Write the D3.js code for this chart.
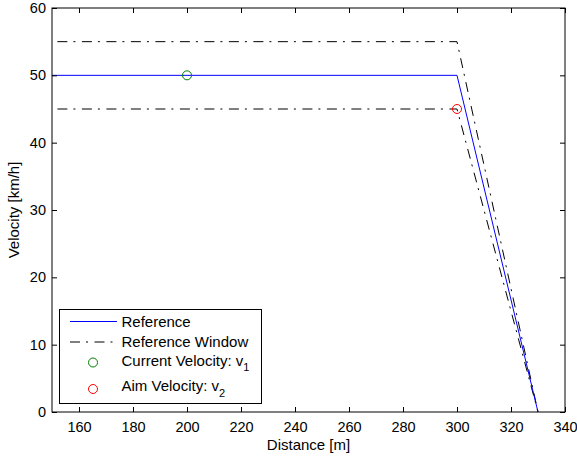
<!DOCTYPE html>
<html>
<head>
<meta charset="utf-8">
<script src="https://cdn.jsdelivr.net/npm/d3@7"></script>
<style>
  body { margin: 0; background: #fff; }
  svg { font-family: "Liberation Sans", Arial, sans-serif; }
</style>
</head>
<body>
<svg id="chart" width="577" height="460"></svg>
<script>
// data
const referenceLine = [[150, 50], [300, 50], [330, 0]];
const windowUpper = [[152, 55], [300, 55], [330, 0]];
const windowLower = [[152, 45], [300, 45], [330, 0]];
const currentVelocity = [[200, 50]];
const aimVelocity = [[300, 45]];
const xTicks = [160, 180, 200, 220, 240, 260, 280, 300, 320, 340];
const yTicks = [0, 10, 20, 30, 40, 50, 60];

const svg = d3.select("#chart");
const plotLeft = 52, plotRight = 565, plotTop = 8, plotBottom = 412;

const x = d3.scaleLinear().domain([150, 340]).range([plotLeft, plotRight]);
const y = d3.scaleLinear().domain([0, 60]).range([plotBottom, plotTop]);

const line = d3.line().x(d => x(d[0])).y(d => y(d[1]));
const dashDot = "10,6,2,6.5";

svg.append("defs").append("clipPath").attr("id", "plot")
  .append("rect").attr("x", plotLeft).attr("y", plotTop)
  .attr("width", plotRight - plotLeft).attr("height", plotBottom - plotTop);

const plot = svg.append("g").attr("clip-path", "url(#plot)");

// window lines
[windowUpper, windowLower].forEach(data => {
  plot.append("path")
    .attr("d", line(data))
    .attr("fill", "none")
    .attr("stroke", "#000")
    .attr("stroke-width", 1)
    .attr("stroke-dasharray", dashDot);
});

// reference
plot.append("path")
  .attr("d", line(referenceLine))
  .attr("fill", "none")
  .attr("stroke", "#0000ff")
  .attr("stroke-width", 1);

// markers
plot.selectAll(".cur").data(currentVelocity).join("circle")
  .attr("cx", d => x(d[0])).attr("cy", d => y(d[1])).attr("r", 4.5)
  .attr("fill", "none").attr("stroke", "#008000");
plot.selectAll(".aim").data(aimVelocity).join("circle")
  .attr("cx", d => x(d[0])).attr("cy", d => y(d[1])).attr("r", 4.5)
  .attr("fill", "none").attr("stroke", "#ff0000");

// axes, ticks pointing inward, mirrored on top/right
const tickLen = 5;
const tickFont = "14.5px";
const labelFont = "15px";
const xb = svg.append("g").attr("transform", `translate(0,${plotBottom})`)
  .call(d3.axisBottom(x).tickValues(xTicks).tickSizeInner(-tickLen).tickSizeOuter(0).tickPadding(10));
const xt = svg.append("g").attr("transform", `translate(0,${plotTop})`)
  .call(d3.axisTop(x).tickValues(xTicks).tickSizeInner(-tickLen).tickSizeOuter(0).tickFormat(""));
const yl = svg.append("g").attr("transform", `translate(${plotLeft},0)`)
  .call(d3.axisLeft(y).tickValues(yTicks).tickSizeInner(-tickLen).tickSizeOuter(0).tickPadding(6));
const yr = svg.append("g").attr("transform", `translate(${plotRight},0)`)
  .call(d3.axisRight(y).tickValues(yTicks).tickSizeInner(-tickLen).tickSizeOuter(0).tickFormat(""));

[xb, xt, yl, yr].forEach(g => {
  g.select(".domain").remove();
  g.selectAll("line").attr("stroke", "#000");
  g.selectAll("text").attr("fill", "#000").style("font-size", tickFont).style("font-family", "Liberation Sans, Arial, sans-serif");
});

svg.append("rect")
  .attr("x", plotLeft).attr("y", plotTop)
  .attr("width", plotRight - plotLeft).attr("height", plotBottom - plotTop)
  .attr("fill", "none").attr("stroke", "#000").attr("stroke-width", 1);

// axis labels
svg.append("text")
  .attr("x", (plotLeft + plotRight) / 2).attr("y", 449.5)
  .attr("text-anchor", "middle").style("font-size", labelFont)
  .text("Distance [m]");
svg.append("text")
  .attr("transform", `translate(19,${(plotTop + plotBottom) / 2}) rotate(-90)`)
  .attr("text-anchor", "middle").style("font-size", labelFont)
  .text("Velocity [km/h]");

// legend
const lg = svg.append("g");
lg.append("rect")
  .attr("x", 59.5).attr("y", 309.5).attr("width", 202).attr("height", 94)
  .attr("fill", "#fff").attr("stroke", "#000");

const entries = [
  { label: "Reference", sub: null, y: 321.5, mark: 321.5, kind: "line" },
  { label: "Reference Window", sub: null, y: 342, mark: 342, kind: "dash" },
  { label: "Current Velocity: v", sub: "1", y: 360.5, mark: 362.5, kind: "green" },
  { label: "Aim Velocity: v", sub: "2", y: 386, mark: 389, kind: "red" }
];

entries.forEach(e => {
  if (e.kind === "line" || e.kind === "dash") {
    lg.append("line")
      .attr("x1", 70).attr("x2", 117).attr("y1", e.mark).attr("y2", e.mark)
      .attr("stroke", e.kind === "line" ? "#0000ff" : "#000")
      .attr("stroke-dasharray", e.kind === "dash" ? dashDot : null);
  } else {
    lg.append("circle")
      .attr("cx", 93).attr("cy", e.mark).attr("r", 4.5)
      .attr("fill", "none")
      .attr("stroke", e.kind === "green" ? "#008000" : "#ff0000");
  }
  const t = lg.append("text")
    .attr("x", 121.5).attr("y", e.y).attr("dy", "0.36em")
    .style("font-size", labelFont).text(e.label);
  if (e.sub) {
    t.append("tspan").attr("dy", "0.5em").style("font-size", "11px").text(e.sub);
  }
});
</script>
</body>
</html>
